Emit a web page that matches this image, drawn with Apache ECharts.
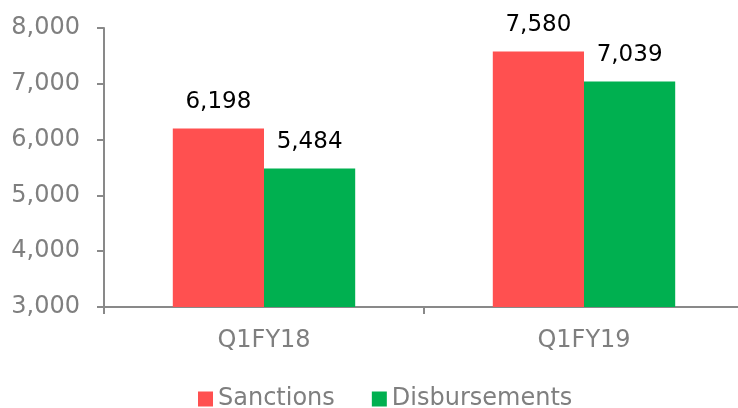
<!DOCTYPE html>
<html>
<head>
<meta charset="utf-8">
<script src="https://cdn.jsdelivr.net/npm/echarts@6/dist/echarts.min.js"></script>
<style>
  html, body { margin: 0; padding: 0; background: #ffffff; overflow: hidden; }
  #chart { width: 744px; height: 408px; }
</style>
</head>
<body>
<div id="chart"></div>
<script>
// Datos del gráfico
var categorias = ["Q1FY18", "Q1FY19"];
var sanciones = [6198, 7580];
var desembolsos = [5484, 7039];
var nombres = ["Sanctions", "Disbursements"];

var chartDom = document.getElementById("chart");
var myChart = echarts.init(chartDom);

var fuente = "DejaVu Sans";
var grisEje = "#898989";
var grisTexto = "#7f7f7f";

var etiqueta = {
    show: true,
    position: "top",
    distance: 15,
    color: "#000000",
    fontFamily: fuente,
    fontSize: 23,
    formatter: function (p) { return p.value.toLocaleString("en-US"); }
};

var option = {
    backgroundColor: "#ffffff",
    animation: false,
    grid: { left: 104, right: 0, top: 28, bottom: 101, containLabel: false },
    legend: {
        data: nombres,
        left: 193,
        top: 382,
        itemWidth: 15,
        itemHeight: 15,
        itemGap: 37,
        icon: "rect",
        textStyle: { color: grisTexto, fontFamily: fuente, fontSize: 24 }
    },
    xAxis: {
        type: "category",
        data: categorias,
        axisLine: { lineStyle: { color: grisEje, width: 2 } },
        axisTick: { show: true, length: 7, lineStyle: { color: grisEje, width: 2 } },
        axisLabel: { color: grisTexto, fontFamily: fuente, fontSize: 24, margin: 22 }
    },
    yAxis: {
        type: "value",
        min: 3000,
        max: 8000,
        interval: 1000,
        splitLine: { show: false },
        axisLine: { show: true, lineStyle: { color: grisEje, width: 2 } },
        axisTick: { show: true, length: 7, lineStyle: { color: grisEje, width: 2 } },
        axisLabel: {
            color: grisTexto,
            fontFamily: fuente,
            fontSize: 24,
            margin: 24,
            formatter: function (v) { return v.toLocaleString("en-US"); }
        }
    },
    series: [
        {
            name: nombres[0],
            type: "bar",
            data: sanciones,
            barGap: "0%",
            barCategoryGap: "43%",
            itemStyle: { color: "#ff5050" },
            label: etiqueta
        },
        {
            name: nombres[1],
            type: "bar",
            data: desembolsos,
            itemStyle: { color: "#00b050" },
            label: etiqueta
        }
    ]
};

myChart.setOption(option);
</script>
</body>
</html>
